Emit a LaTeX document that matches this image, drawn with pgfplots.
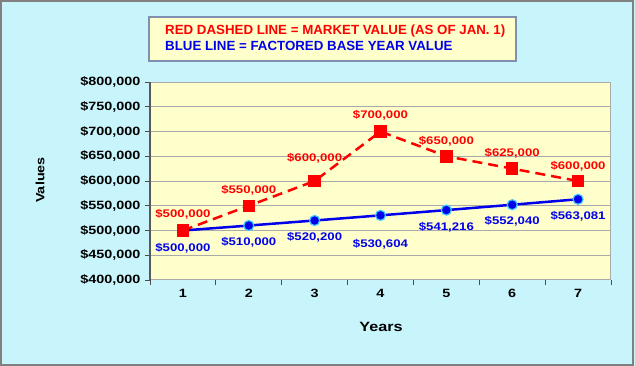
\documentclass[border=0pt]{standalone}
\usepackage{fontspec}
\setmainfont{Liberation Sans}[FakeStretch=1.2]
\newfontfamily\legfont{Liberation Sans}
\usepackage{pgfplots}
\pgfplotsset{compat=1.18}
\definecolor{bgcyan}{RGB}{200,245,251}
\definecolor{plotyellow}{RGB}{255,255,204}
\definecolor{gridgray}{RGB}{170,170,170}
\definecolor{legborder}{RGB}{128,144,176}
\definecolor{myred}{RGB}{255,0,0}
\definecolor{myblue}{RGB}{0,0,235}
\definecolor{edgecyan}{RGB}{60,200,255}
\pgfplotstableread{
x y dy label
1 500000 16 {\$500,000}
2 550000 15 {\$550,000}
3 600000 23 {\$600,000}
4 700000 16 {\$700,000}
5 650000 15 {\$650,000}
6 625000 15 {\$625,000}
7 600000 15 {\$600,000}
}\market
\pgfplotstableread{
x y dy label
1 500000 -18 {\$500,000}
2 510000 -17 {\$510,000}
3 520200 -17 {\$520,200}
4 530604 -29 {\$530,604}
5 541216 -17 {\$541,216}
6 552040 -17 {\$552,040}
7 563081 -17 {\$563,081}
}\factored
\begin{document}
\begin{tikzpicture}
\fill[bgcyan] (0bp,0bp) rectangle (635bp,366bp);
\draw[gray, line width=1.5bp] (1bp,1bp) rectangle (633bp,365bp);
% legend box
\draw[legborder, line width=1.2bp, fill=plotyellow] (149bp,349bp) rectangle (516bp,305bp);
\node[anchor=base west, inner sep=0, text=myred, font=\legfont\bfseries\fontsize{13.3bp}{15bp}\selectfont] at (165bp,331bp) {RED DASHED LINE = MARKET VALUE (AS OF JAN. 1)};
\node[anchor=base west, inner sep=0, text=myblue, font=\legfont\bfseries\fontsize{13.3bp}{15bp}\selectfont] at (165bp,315bp) {BLUE LINE = FACTORED BASE YEAR VALUE};
\node[rotate=90, font=\bfseries\fontsize{12bp}{14bp}\selectfont] at (40bp,186bp) {Values};
\node[font=\bfseries\fontsize{13.5bp}{15bp}\selectfont] at (381bp,39bp) {Years};
\begin{axis}[
  at={(150bp,86bp)}, anchor=south west,
  scale only axis, width=461bp, height=198bp,
  xmin=0.5, xmax=7.5, ymin=400000, ymax=800000,
  scaled y ticks=false,
  axis background/.style={fill=plotyellow},
  axis line style={gridgray, line width=1bp},
  tick pos=left,
  ytick={400000,450000,...,800000},
  yticklabels={{\$400,000},{\$450,000},{\$500,000},{\$550,000},{\$600,000},{\$650,000},{\$700,000},{\$750,000},{\$800,000}},
  yticklabel style={font=\bfseries\fontsize{12bp}{14bp}\selectfont, xshift=-1bp},
  xtick={0.5,1.5,...,7.5}, xticklabels={},
  extra x ticks={1,2,3,4,5,6,7},
  extra x tick labels={1,2,3,4,5,6,7},
  extra x tick style={major tick length=0pt, xticklabel style={font=\bfseries\fontsize{12bp}{14bp}\selectfont, yshift=-6bp}},
  tick align=outside, major tick length=5bp,
  tick style={black!70, line width=0.8bp},
  ymajorgrids, grid style={gridgray, line width=1bp},
  clip=false,
]
\draw[black!65, line width=1.5bp] (rel axis cs:0,0) -- (rel axis cs:0,1);
\addplot[myblue, line width=2.5bp, mark=*, mark size=5bp, mark options={solid, fill=myblue, draw=edgecyan, line width=1.2bp},
  nodes near coords, point meta=explicit symbolic,
  visualization depends on={\thisrow{dy} \as \dy},
  nodes near coords style={anchor=center, inner sep=0pt, yshift=\dy bp, text=myblue, font=\bfseries\fontsize{11bp}{13bp}\selectfont}]
  table[x=x, y=y, meta=label] {\factored};
\addplot[myred, line width=2.5bp, dash pattern=on 10bp off 6bp, mark=square*, mark size=5bp, mark options={solid, fill=myred},
  nodes near coords, point meta=explicit symbolic,
  visualization depends on={\thisrow{dy} \as \dy},
  nodes near coords style={anchor=center, inner sep=0pt, yshift=\dy bp, text=myred, font=\bfseries\fontsize{11bp}{13bp}\selectfont}]
  table[x=x, y=y, meta=label] {\market};
\end{axis}
\end{tikzpicture}
\end{document}
